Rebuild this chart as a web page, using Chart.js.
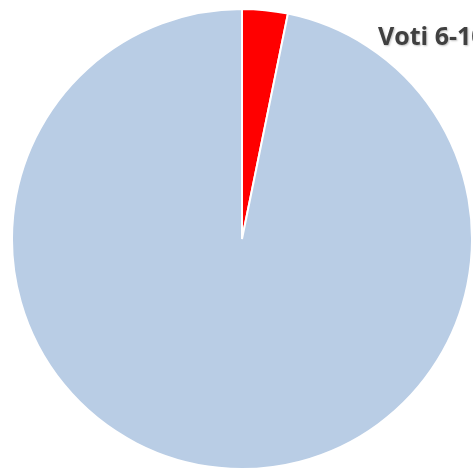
<!DOCTYPE html>
<html>
<head>
<meta charset="utf-8">
<script src="https://cdn.jsdelivr.net/npm/chart.js@4"></script>
<style>
  html, body { margin: 0; padding: 0; background: #ffffff; overflow: hidden; }
  #wrap { width: 473px; height: 470px; position: relative; }
</style>
</head>
<body>
<div id="wrap"><canvas id="chart"></canvas></div>
<script>
const categories = ['Voti 1-5', 'Voti 6-10'];
const values = [3.2, 96.8];
const sliceColors = ['#FF0000', '#B9CDE5'];
const titleText = 'Voti 6-10';

// title sits over the pie, half cut by the right edge
const titlePlugin = {
  id: 'cornerTitle',
  afterDraw(chart) {
    const ctx = chart.ctx;
    ctx.save();
    ctx.font = 'bold 25px "Open Sans", sans-serif';
    ctx.fillStyle = '#404040';
    ctx.shadowColor = 'rgba(0,0,0,0.25)';
    ctx.shadowOffsetX = 1;
    ctx.shadowOffsetY = 1;
    ctx.shadowBlur = 2;
    ctx.textAlign = 'left';
    ctx.textBaseline = 'middle';
    ctx.fillText(titleText, 378, 38);
    ctx.restore();
  }
};

new Chart(document.getElementById('chart').getContext('2d'), {
  type: 'pie',
  data: {
    labels: categories,
    datasets: [{
      data: values,
      backgroundColor: sliceColors,
      borderColor: '#ffffff',
      borderWidth: 2
    }]
  },
  options: {
    responsive: true,
    maintainAspectRatio: false,
    animation: false,
    layout: { padding: { top: 8, bottom: 0, left: 11, right: 0 } },
    plugins: {
      legend: { display: false },
      tooltip: { enabled: false }
    }
  },
  plugins: [titlePlugin]
});
</script>
</body>
</html>
